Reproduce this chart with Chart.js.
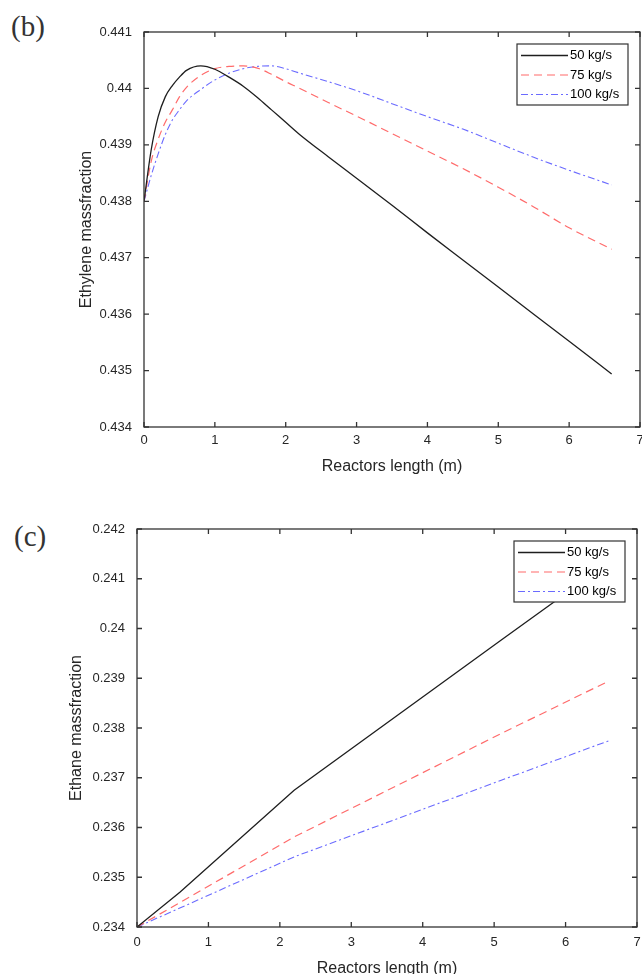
<!DOCTYPE html>
<html>
<head>
<meta charset="utf-8">
<script src="https://cdn.jsdelivr.net/npm/chart.js@4.4.1/dist/chart.umd.min.js"></script>
<style>
  html, body { margin: 0; padding: 0; background: #fff; width: 642px; height: 974px; overflow: hidden; }
  .panel { position: absolute; left: 0; width: 652px; }
  .tag { position: absolute; font-family: "Liberation Serif", serif; font-size: 29px; color: #333; line-height: 1; }
</style>
</head>
<body>
<div class="tag" style="left:11px;top:12px">(b)</div>
<div class="panel" style="top:0;height:490px"><canvas id="ethyleneChart"></canvas></div>
<div class="tag" style="left:14px;top:522px">(c)</div>
<div class="panel" style="top:490px;height:500px"><canvas id="ethaneChart"></canvas></div>

<script>
// values
const flowLabels = ["50 kg/s", "75 kg/s", "100 kg/s"];

const ethyleneLength = [0, 0.1, 0.2, 0.3, 0.4, 0.5, 0.6, 0.8, 1.0, 1.2, 1.4, 1.6, 1.8, 2.0, 2.2, 2.6, 3.0, 3.5, 4.0, 4.5, 5.0, 5.5, 6.0, 6.6];
const ethylene50 = [0.4380, 0.4389, 0.4395, 0.43985, 0.44005, 0.44020, 0.44032, 0.44040, 0.44034, 0.44020, 0.44004, 0.43984, 0.43962, 0.43940, 0.43918, 0.43879, 0.43841, 0.43793, 0.43744, 0.43696, 0.43648, 0.43600, 0.43552, 0.43494];
const ethylene75 = [0.4380, 0.43870, 0.43910, 0.43940, 0.43962, 0.43985, 0.44002, 0.44023, 0.44035, 0.44039, 0.44040, 0.44036, 0.44025, 0.44012, 0.44000, 0.43975, 0.43951, 0.43920, 0.43889, 0.43858, 0.43825, 0.43790, 0.43753, 0.43715];
const ethylene100 = [0.4380, 0.43845, 0.43884, 0.43918, 0.43944, 0.43962, 0.43978, 0.43998, 0.44015, 0.44027, 0.44035, 0.44039, 0.44040, 0.44035, 0.44027, 0.44012, 0.43996, 0.43973, 0.43950, 0.43928, 0.43903, 0.43878, 0.43855, 0.43829];

const ethaneLength = [0, 0.6, 2.2, 5.1, 6.6];
const ethane50 = [0.2340, 0.23470, 0.23675, 0.23977, 0.24132];
const ethane75 = [0.2340, 0.23449, 0.23581, 0.23789, 0.23894];
const ethane100 = [0.2340, 0.23438, 0.23541, 0.23695, 0.23774];

const lengthTicks = [0, 1, 2, 3, 4, 5, 6, 7];
const lengthTickLabels = ["0", "1", "2", "3", "4", "5", "6", "7"];
const ethyleneTicks = [0.434, 0.435, 0.436, 0.437, 0.438, 0.439, 0.440, 0.441];
const ethyleneTickLabels = ["0.434", "0.435", "0.436", "0.437", "0.438", "0.439", "0.44", "0.441"];
const ethaneTicks = [0.234, 0.235, 0.236, 0.237, 0.238, 0.239, 0.240, 0.241, 0.242];
const ethaneTickLabels = ["0.234", "0.235", "0.236", "0.237", "0.238", "0.239", "0.24", "0.241", "0.242"];

const lineStyles = [
    { color: "#1e1e1e", width: 1.3, dash: [] },
    { color: "#ff6b6b", width: 1.2, dash: [8, 5] },
    { color: "#6b6bff", width: 1.1, dash: [7, 3, 2, 3] }
];

const FONT = "'Liberation Sans', Arial, sans-serif";
const INK = "#262626";

// box frame with inward ticks on all four sides + legend in the top right corner
const matlabFrame = {
    id: "matlabFrame",
    afterDatasetsDraw(chart) {
        const { ctx, chartArea: a, scales: { x, y } } = chart;
        ctx.save();
        ctx.strokeStyle = "#333";
        ctx.lineWidth = 1.3;
        ctx.setLineDash([]);
        ctx.strokeRect(a.left, a.top, a.right - a.left, a.bottom - a.top);
        ctx.beginPath();
        x.ticks.forEach(t => {
            const px = x.getPixelForValue(t.value);
            ctx.moveTo(px, a.bottom); ctx.lineTo(px, a.bottom - 5);
            ctx.moveTo(px, a.top); ctx.lineTo(px, a.top + 5);
        });
        y.ticks.forEach(t => {
            const py = y.getPixelForValue(t.value);
            ctx.moveTo(a.left, py); ctx.lineTo(a.left + 5, py);
            ctx.moveTo(a.right, py); ctx.lineTo(a.right - 5, py);
        });
        ctx.stroke();

        // legend
        const w = 111, h = 61;
        const bx = a.right - 12 - w, by = a.top + 12;
        ctx.fillStyle = "#fff";
        ctx.fillRect(bx, by, w, h);
        ctx.strokeStyle = "#333";
        ctx.lineWidth = 1.2;
        ctx.strokeRect(bx, by, w, h);
        ctx.font = "13px " + FONT;
        ctx.textBaseline = "middle";
        chart.data.datasets.forEach((ds, i) => {
            const ly = by + 11.5 + i * 19.5;
            ctx.strokeStyle = ds.borderColor;
            ctx.lineWidth = ds.borderWidth;
            ctx.setLineDash(ds.borderDash);
            ctx.beginPath();
            ctx.moveTo(bx + 4, ly); ctx.lineTo(bx + 51, ly);
            ctx.stroke();
            ctx.fillStyle = "#000";
            ctx.fillText(ds.label, bx + 53, ly);
        });
        ctx.restore();
    }
};

const buildChart = (id, xs, series, yTicks, yLabels, yTitle, box) => {
    const ctx = document.getElementById(id).getContext("2d");
    return new Chart(ctx, {
        type: "line",
        data: {
            datasets: series.map((vals, i) => ({
                label: flowLabels[i],
                data: xs.map((v, k) => ({ x: v, y: vals[k] })),
                borderColor: lineStyles[i].color,
                borderWidth: lineStyles[i].width,
                borderDash: lineStyles[i].dash,
                pointRadius: 0,
                fill: false,
                cubicInterpolationMode: box.smooth ? "monotone" : "default",
                tension: 0
            }))
        },
        options: {
            responsive: true,
            maintainAspectRatio: false,
            animation: false,
            layout: { padding: { top: box.top, right: box.right, left: 0, bottom: 0 } },
            plugins: { legend: { display: false }, tooltip: { enabled: false } },
            scales: {
                x: {
                    type: "linear",
                    min: 0, max: 7,
                    afterBuildTicks: s => { s.ticks = lengthTicks.map(v => ({ value: v })); },
                    afterFit: s => { s.height = box.xHeight; },
                    grid: { display: false, drawTicks: false },
                    border: { display: false },
                    ticks: {
                        autoSkip: false, maxRotation: 0, padding: box.xTickPad,
                        color: INK, font: { family: FONT, size: 13 },
                        callback: (v, i) => lengthTickLabels[i]
                    },
                    title: {
                        display: true, text: "Reactors length (m)", color: INK,
                        font: { family: FONT, size: 16 },
                        padding: { top: 0, bottom: box.xTitlePad }
                    }
                },
                y: {
                    type: "linear",
                    min: yTicks[0], max: yTicks[yTicks.length - 1],
                    afterBuildTicks: s => { s.ticks = yTicks.map(v => ({ value: v })); },
                    afterFit: s => { s.width = box.left; },
                    grid: { display: false, drawTicks: false },
                    border: { display: false },
                    ticks: {
                        autoSkip: false, padding: 12,
                        color: INK, font: { family: FONT, size: 13 },
                        callback: (v, i) => yLabels[i]
                    },
                    title: {
                        display: true, text: yTitle, color: INK,
                        font: { family: FONT, size: 16 },
                        padding: { top: box.yTitlePad, bottom: 0 }
                    }
                }
            }
        },
        plugins: [matlabFrame]
    });
};

// panels are 652 wide (cropped by the window) so the right padding is ours, not the tick label's
buildChart("ethyleneChart", ethyleneLength, [ethylene50, ethylene75, ethylene100],
    ethyleneTicks, ethyleneTickLabels, "Ethylene massfraction",
    { top: 32, right: 12, left: 144, xHeight: 63, xTickPad: 6, xTitlePad: 14, yTitlePad: 77, smooth: true });

buildChart("ethaneChart", ethaneLength, [ethane50, ethane75, ethane100],
    ethaneTicks, ethaneTickLabels, "Ethane massfraction",
    { top: 39, right: 15, left: 137, xHeight: 63, xTickPad: 8, xTitlePad: 12, yTitlePad: 67, smooth: false });
</script>
</body>
</html>
